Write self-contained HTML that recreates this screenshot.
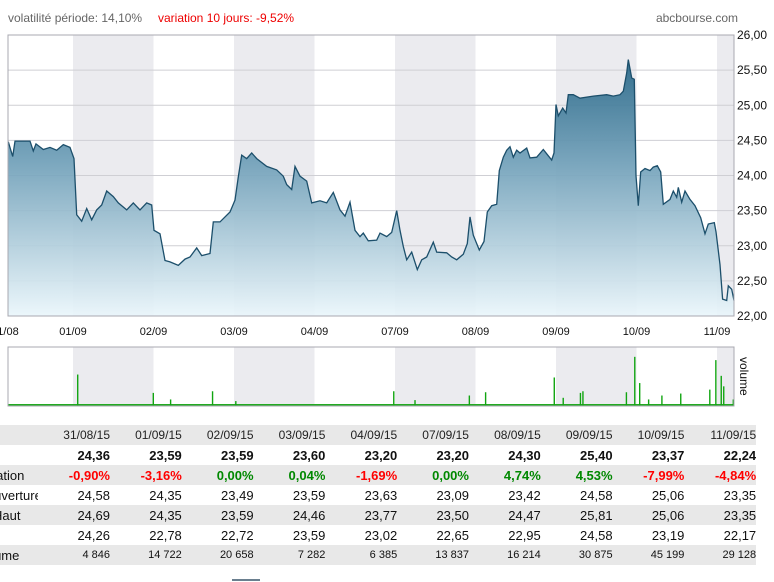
<!DOCTYPE html>
<html><head><meta charset="utf-8">
<style>
body{margin:0;background:#fff;width:774px;height:582px;overflow:hidden;font-family:"Liberation Sans",Arial,sans-serif;position:relative}
.hdr{position:absolute;top:11px;font-size:12px}
table{position:absolute;left:0;top:425px;border-collapse:collapse;width:756px;table-layout:fixed}
td{height:20px;padding:0;text-align:right;font-size:13px;color:#111;white-space:nowrap;overflow:hidden}
tr.sh td{background:#e8e8e8}
td.lab{text-align:right;font-size:13px}
.b td{font-weight:bold}
.red{color:#f00}.grn{color:#080}
tr.vol td{font-size:11px}
tr.hd td{font-size:12px;color:#222}
</style></head><body>
<div class="hdr" style="left:8px;color:#666">volatilité période: 14,10%</div>
<div class="hdr" style="left:158px;color:#e00">variation 10 jours: -9,52%</div>
<div class="hdr" style="right:36px;color:#666">abcbourse.com</div>
<svg id="chart" width="774" height="420" style="position:absolute;left:0;top:0">
<defs><linearGradient id="g" gradientUnits="userSpaceOnUse" x1="0" y1="35" x2="0" y2="316">
<stop offset="0" stop-color="#13577a"/><stop offset="0.45" stop-color="#6f9fb8"/><stop offset="1" stop-color="#eaf6fb"/></linearGradient></defs>
</svg>
<table>
<colgroup><col style="width:38px"><col style="width:72px"><col span="9" style="width:71.8px"></colgroup>
<tr class="sh hd"><td></td><td>31/08/15</td><td>01/09/15</td><td>02/09/15</td><td>03/09/15</td><td>04/09/15</td><td>07/09/15</td><td>08/09/15</td><td>09/09/15</td><td>10/09/15</td><td>11/09/15</td></tr>
<tr class="b"><td class="lab" style="font-weight:normal;text-indent:-30px;text-align:left;padding-left:0"><span style="position:relative;left:-17px">Dernier</span></td><td>24,36</td><td>23,59</td><td>23,59</td><td>23,60</td><td>23,20</td><td>23,20</td><td>24,30</td><td>25,40</td><td>23,37</td><td>22,24</td></tr>
<tr class="sh b"><td style="font-weight:normal;text-align:left"><span style="position:relative;left:-26px">Variation</span></td><td class="red">-0,90%</td><td class="red">-3,16%</td><td class="grn">0,00%</td><td class="grn">0,04%</td><td class="red">-1,69%</td><td class="grn">0,00%</td><td class="grn">4,74%</td><td class="grn">4,53%</td><td class="red">-7,99%</td><td class="red">-4,84%</td></tr>
<tr><td style="text-align:left"><span style="position:relative;left:-16px">Ouverture</span></td><td>24,58</td><td>24,35</td><td>23,49</td><td>23,59</td><td>23,63</td><td>23,09</td><td>23,42</td><td>24,58</td><td>25,06</td><td>23,35</td></tr>
<tr class="sh"><td style="text-align:left"><span style="position:relative;left:-7px">Haut</span></td><td>24,69</td><td>24,35</td><td>23,59</td><td>24,46</td><td>23,77</td><td>23,50</td><td>24,47</td><td>25,81</td><td>25,06</td><td>23,35</td></tr>
<tr><td style="text-align:left"><span style="position:relative;left:-22px">Bas</span></td><td>24,26</td><td>22,78</td><td>22,72</td><td>23,59</td><td>23,02</td><td>22,65</td><td>22,95</td><td>24,58</td><td>23,19</td><td>22,17</td></tr>
<tr class="sh vol"><td style="text-align:left;font-size:13px"><span style="position:relative;left:-24px">Volume</span></td><td>4 846</td><td>14 722</td><td>20 658</td><td>7 282</td><td>6 385</td><td>13 837</td><td>16 214</td><td>30 875</td><td>45 199</td><td>29 128</td></tr>
</table>
<div style="position:absolute;left:232px;top:579px;width:28px;height:2px;background:#6a7f8f"></div>
<script>
const dayLabels=["1/08","01/09","02/09","03/09","04/09","07/09","08/09","09/09","10/09","11/09"];
const yTicks=[22,22.5,23,23.5,24,24.5,25,25.5,26];
const yTickLabels=["22,00","22,50","23,00","23,50","24,00","24,50","25,00","25,50","26,00"];
const priceTimes=[0.196,0.251,0.279,0.466,0.507,0.540,0.631,0.714,0.797,0.879,0.963,1.012,1.046,1.108,1.170,1.232,1.294,1.356,1.419,1.501,1.563,1.667,1.749,1.832,1.915,1.978,2.006,2.081,2.143,2.205,2.308,2.391,2.453,2.537,2.599,2.702,2.743,2.826,2.950,3.012,3.053,3.096,3.158,3.220,3.282,3.406,3.530,3.612,3.655,3.717,3.758,3.820,3.903,3.965,4.068,4.151,4.233,4.317,4.379,4.441,4.503,4.565,4.606,4.668,4.772,4.814,4.897,4.959,5.021,5.062,5.103,5.145,5.207,5.277,5.332,5.394,5.476,5.518,5.642,5.704,5.766,5.848,5.898,5.932,5.973,6.047,6.105,6.146,6.201,6.263,6.296,6.345,6.387,6.428,6.469,6.512,6.553,6.636,6.677,6.760,6.842,6.904,6.946,6.975,7.000,7.028,7.083,7.124,7.153,7.215,7.298,7.463,7.630,7.712,7.795,7.836,7.878,7.898,7.940,7.973,7.994,8.022,8.052,8.105,8.167,8.208,8.258,8.300,8.333,8.416,8.457,8.499,8.519,8.561,8.602,8.664,8.726,8.797,8.851,8.892,8.966,8.987,9.037,9.070,9.120,9.140,9.182,9.211];
const priceValues=[24.48,24.27,24.49,24.49,24.35,24.45,24.37,24.40,24.36,24.44,24.40,24.24,23.44,23.35,23.53,23.37,23.51,23.58,23.78,23.70,23.61,23.51,23.61,23.51,23.61,23.58,23.22,23.17,22.79,22.77,22.72,22.81,22.84,22.97,22.86,22.89,23.34,23.34,23.48,23.65,23.98,24.29,24.24,24.32,24.24,24.13,24.08,23.99,23.87,23.80,24.13,23.99,23.92,23.61,23.64,23.61,23.76,23.51,23.42,23.62,23.22,23.13,23.18,23.07,23.08,23.18,23.13,23.19,23.50,23.22,22.99,22.80,22.91,22.66,22.80,22.84,23.05,22.91,22.90,22.84,22.80,22.88,23.03,23.41,23.15,22.94,23.06,23.48,23.57,23.59,24.07,24.26,24.36,24.41,24.26,24.36,24.32,24.39,24.25,24.26,24.37,24.28,24.22,24.32,25.01,24.85,24.96,24.89,25.15,25.15,25.10,25.13,25.15,25.13,25.15,25.20,25.46,25.65,25.39,25.37,24.00,23.57,24.05,24.10,24.07,24.12,24.14,24.05,23.59,23.66,23.78,23.69,23.83,23.62,23.78,23.66,23.57,23.40,23.17,23.31,23.33,23.20,22.73,22.24,22.22,22.43,22.38,22.22];
const volTimes=[1.056,1.995,2.210,2.731,3.020,4.982,5.246,5.921,6.123,6.976,7.087,7.301,7.332,7.872,7.976,8.037,8.148,8.313,8.547,8.908,8.983,9.050,9.081,9.200];
const volValues=[96,40,20,45,15,45,18,32,42,87,25,40,45,42,150,70,20,32,38,50,140,92,60,20];
const NS="http://www.w3.org/2000/svg";
const svg=document.getElementById('chart');
const L=8,R=734,PT=35,PB=316,VT=347,VB=406,VMAX=180;
const tMin=0.1925,tMax=9.211;
const xS=t=>L+(t-tMin)/(tMax-tMin)*(R-L);
const yS=v=>PB-(v-22)/(26-22)*(PB-PT);
const vS=v=>VB-v/VMAX*(VB-VT);
function mk(tag,attrs,parent){const e=document.createElementNS(NS,tag);for(const k in attrs)e.setAttribute(k,attrs[k]);(parent||svg).appendChild(e);return e;}
// day shading in both panels
for(let d=1;d<=9;d+=2){
  const x0=Math.max(L,xS(d)),x1=Math.min(R,xS(d+1));
  const s1=mk('rect',{x:x0,y:PT,width:x1-x0,height:PB-PT,fill:'#ebebef'});
  
  
  const s2=mk('rect',{x:x0,y:VT,width:x1-x0,height:VB-VT,fill:'#ebebef'});
  
  
}
// grid + y labels
yTicks.forEach((v,i)=>{
  const g=mk('line',{x1:L,x2:R,y1:yS(v),y2:yS(v),stroke:'#cfcfd4','stroke-width':1});
  
  
  const t=mk('text',{x:R+3,y:yS(v)+4,'font-size':12,fill:'#111','font-family':'Liberation Sans, sans-serif'});
  t.textContent=yTickLabels[i];
  
  
});
// area + line
let dpath='';
priceTimes.forEach((t,i)=>{dpath+=(i?'L':'M')+xS(t).toFixed(1)+','+yS(priceValues[i]).toFixed(1);});
const area=mk('path',{d:dpath+'L'+xS(priceTimes[priceTimes.length-1]).toFixed(1)+','+PB+'L'+xS(priceTimes[0]).toFixed(1)+','+PB+'Z',fill:'url(#g)','fill-opacity':0.92});


const line=mk('path',{d:dpath,fill:'none',stroke:'#1c4f6b','stroke-width':1.3});


// frames
const f1=mk('rect',{x:L,y:PT,width:R-L,height:PB-PT,fill:'none',stroke:'#a8a8b0'});


// x labels
dayLabels.forEach((s,i)=>{
  const t=mk('text',{x:xS(i===0?tMin:i),y:335,'font-size':11,'text-anchor':'middle',fill:'#111','font-family':'Liberation Sans, sans-serif'});
  t.textContent=s;
  
  
});
// volume baseline + bars
const base=mk('rect',{x:L,y:VB-2,width:R-L,height:2,fill:'#22aa22'});


volTimes.forEach((t,i)=>{
  const b=mk('rect',{x:xS(t)-0.5,y:vS(volValues[i]),width:1.4,height:VB-vS(volValues[i]),fill:'#11a511'});
  
  
});
const f2=mk('rect',{x:L,y:VT,width:R-L,height:VB-VT,fill:'none',stroke:'#a8a8b0'});


const vl=mk('text',{x:0,y:0,'font-size':12,fill:'#111',transform:'translate(740,357) rotate(90)','font-family':'Liberation Sans, sans-serif'});
vl.textContent='volume';


</script>
</body></html>
